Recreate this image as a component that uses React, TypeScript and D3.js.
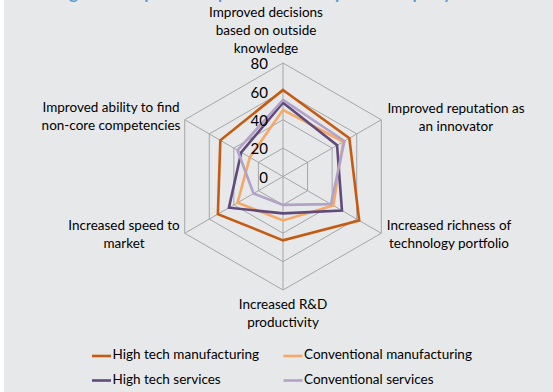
import React from 'react';
import * as d3 from 'd3';

// axis labels, clockwise from the top
const categories = [
  ['Improved decisions', 'based on outside', 'knowledge'],
  ['Improved reputation as', 'an innovator'],
  ['Increased richness of', 'technology portfolio'],
  ['Increased R&D', 'productivity'],
  ['Increased speed to', 'market'],
  ['Improved ability to find', 'non-core competencies'],
];

const highTechManufacturing = [61, 54, 62, 45, 53, 51];
const conventionalManufacturing = [47, 49, 41, 31, 37, 27];
const highTechServices = [52, 44, 48, 26, 44, 34];
const conventionalServices = [54, 50, 39, 20, 24, 37];

const seriesNames = [
  'High tech manufacturing',
  'Conventional manufacturing',
  'High tech services',
  'Conventional services',
];
const tickValues = [0, 20, 40, 60, 80];

const colors = ['#C55A11', '#F7A865', '#604A7B', '#B3A2C7'];

const width = 553;
const height = 392;
const cx = 283;
const cy = 176.5;
const font = 'Lato, "Liberation Sans", sans-serif';

// label anchor points (center of first line)
const labelPos: [number, number][] = [
  [266, 13.5],
  [456, 110],
  [449, 226.5],
  [283, 305.5],
  [124, 227],
  [111, 109],
];

const App = () => {
  const r = d3.scaleLinear().domain([0, 80]).range([0, 113.5]);
  const angle = (i: number) => (i * 2 * Math.PI) / categories.length;
  const series = [
    highTechManufacturing,
    conventionalManufacturing,
    highTechServices,
    conventionalServices,
  ];

  const radial = d3
    .lineRadial<number>()
    .angle((_, i) => angle(i))
    .radius((d) => r(d))
    .curve(d3.curveLinearClosed);

  const ring = (v: number) => radial(categories.map(() => v)) as string;
  const point = (i: number, v: number) => [
    Math.sin(angle(i)) * r(v),
    -Math.cos(angle(i)) * r(v),
  ];

  return (
    <div style={{ position: 'absolute', left: 0, top: 0 }}>
      <svg width={width} height={height} style={{ display: 'block' }}>
        <rect x={0} y={0} width={width} height={height} fill="#ffffff" />
        <rect x={4} y={0} width={width - 4} height={height} fill="#E7E8EA" />
        {/* title, mostly cut off at the top edge */}
        <text
          x={55}
          y={-1}
          fill="#5B9BD5"
          fontFamily={font}
          fontWeight="bold"
          fontSize={17}
        >
          Figure 4: Impacts of open innovation partnerships by sector
        </text>

        <g transform={`translate(${cx},${cy})`}>
          {tickValues.slice(1).map((t) => (
            <path key={t} d={ring(t)} fill="none" stroke="#A6A6A6" strokeWidth={1} />
          ))}
          {categories.map((_, i) => {
            const [x, y] = point(i, 80);
            return <line key={i} x1={0} y1={0} x2={x} y2={y} stroke="#A6A6A6" strokeWidth={1} />;
          })}
          {series.map((s, k) => (
            <path
              key={k}
              d={radial(s) as string}
              fill="none"
              stroke={colors[k]}
              strokeWidth={2.6}
              strokeLinejoin="miter"
            />
          ))}
          {tickValues.map((t) => (
            <text
              key={t}
              x={-15}
              y={-r(t) + 2.5}
              textAnchor="end"
              dominantBaseline="middle"
              fontFamily={font}
              fontSize={15}
              fill="#000"
            >
              {t}
            </text>
          ))}
        </g>

        {categories.map((lines, i) => {
          const [lx, ly] = labelPos[i];
          const lh = 18;
          return (
            <text
              key={i}
              textAnchor="middle"
              fontFamily={font}
              fontSize={13.5}
              fill="#000"
            >
              {lines.map((l, j) => (
                <tspan key={j} x={lx} y={ly + j * lh} dominantBaseline="middle">
                  {l}
                </tspan>
              ))}
            </text>
          );
        })}

        {seriesNames.map((name, k) => {
          const col = k % 2;
          const row = Math.floor(k / 2);
          const x = col === 0 ? 92 : 283.5;
          const y = row === 0 ? 356 : 380.5;
          return (
            <g key={name}>
              <line x1={x} x2={x + 19} y1={y} y2={y} stroke={colors[k]} strokeWidth={2.6} />
              <text
                x={x + 20.5}
                y={y}
                dominantBaseline="middle"
                fontFamily={font}
                fontSize={13.5}
                fill="#000"
              >
                {name}
              </text>
            </g>
          );
        })}
      </svg>
    </div>
  );
};

export default App;
